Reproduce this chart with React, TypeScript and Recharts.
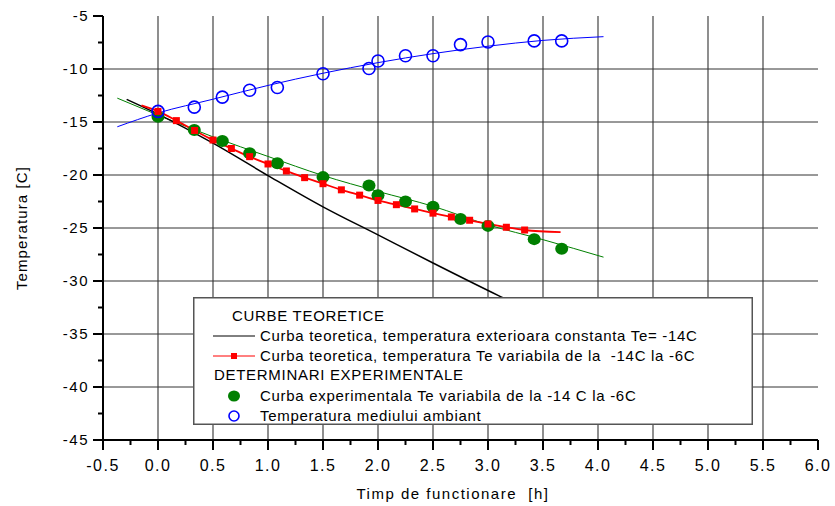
import React from "react";
import {
  ComposedChart,
  Line,
  Scatter,
  XAxis,
  YAxis,
  ReferenceLine,
} from "recharts";

const FONT = "'Liberation Sans', Arial, sans-serif";

// axis ticks
const xMajor = [-0.5, 0, 0.5, 1, 1.5, 2, 2.5, 3, 3.5, 4, 4.5, 5, 5.5, 6];
const yMajor = [-45, -40, -35, -30, -25, -20, -15, -10, -5];

// measurement moments [h]
const timeX = [0, 0.33, 0.585, 0.833, 1.085, 1.5, 1.918, 2.0, 2.25, 2.5, 2.75, 3.0, 3.42, 3.67];
// Temperatura mediului ambiant
const ambientT = [-14.0, -13.6, -12.65, -12.0, -11.75, -10.45, -9.95, -9.25, -8.75, -8.75, -7.7, -7.45, -7.35, -7.35];
// Curba experimentala
const expT = [-14.5, -15.75, -16.8, -17.95, -18.9, -20.2, -21.0, -21.9, -22.5, -23.0, -24.15, -24.8, -26.05, -26.95];

// fitted curves
const ambientFitX = [-0.37, 0, 0.5, 1.0, 1.5, 2.0, 2.5, 3.0, 3.5, 4.05];
const ambientFitT = [-15.45, -14.15, -12.85, -11.55, -10.4, -9.4, -8.55, -7.85, -7.3, -6.95];
const expFitX = [-0.37, 0, 0.5, 1.0, 1.5, 2.0, 2.5, 3.0, 3.5, 4.05];
const expFitT = [-12.75, -14.35, -16.4, -18.25, -20.05, -21.55, -22.95, -24.7, -26.1, -27.75];

// teoretic, Te constant = -14C
const constX = [-0.285, 0, 0.5, 1.0, 1.5, 2.0, 2.5, 3.1, 3.4];
const constT = [-12.86, -14.25, -17.0, -20.05, -23.0, -25.65, -28.3, -31.4, -32.9];

// teoretic, Te variabil -14C .. -6C (pas 10 min)
const varX = [0, 0.167, 0.333, 0.5, 0.667, 0.833, 1.0, 1.167, 1.333, 1.5, 1.667, 1.833, 2.0, 2.167, 2.333, 2.5, 2.667, 2.833, 3.0, 3.167, 3.333];
const varT = [-14.0, -14.87, -15.8, -16.7, -17.5, -18.27, -18.96, -19.62, -20.25, -20.82, -21.4, -21.9, -22.4, -22.8, -23.2, -23.6, -23.96, -24.27, -24.62, -24.93, -25.19];
const varStart = { x: -0.15, y: -13.43 };
const varEnd = { x: 3.66, y: -25.38 };

const pts = (xs: number[], ys: number[]) => xs.map((x, i) => ({ x, y: ys[i] }));

const xTicks = [...xMajor, ...xMajor.slice(1).map((v) => v - 0.25)].sort((a, b) => a - b);
const yTicks = [...yMajor, ...yMajor.slice(1).map((v) => v - 2.5)].sort((a, b) => a - b);
const near = (list: number[], v: number) => list.some((m) => Math.abs(m - v) < 1e-6);

function BottomTick({ x, y, payload }: any) {
  const major = near(xMajor, payload.value);
  return (
    <g>
      <line x1={x} x2={x} y1={y} y2={y + (major ? 10 : 5)} stroke="#000" strokeWidth={2} />
      {major && (
        <text x={x} y={y + 31} textAnchor="middle" fontSize={16} letterSpacing={1.5} fill="#000" fontFamily={FONT}>
          {payload.value.toFixed(1)}
        </text>
      )}
    </g>
  );
}

function TopTick({ x, y, payload }: any) {
  const major = near(xMajor, payload.value);
  return <line x1={x} x2={x} y1={y} y2={y + (major ? 8 : 5)} stroke="#000" strokeWidth={2} />;
}

function LeftTick({ x, y, payload }: any) {
  const major = near(yMajor, payload.value);
  return (
    <g>
      <line x1={x - (major ? 10 : 5)} x2={x} y1={y} y2={y} stroke="#000" strokeWidth={2} />
      {major && (
        <text x={x - 14} y={y} dy="0.36em" textAnchor="end" fontSize={15} letterSpacing={1.5} fill="#000" fontFamily={FONT}>
          {payload.value}
        </text>
      )}
    </g>
  );
}

function RightTick({ x, y, payload }: any) {
  const major = near(yMajor, payload.value);
  return <line x1={x - (major ? 8 : 5)} x2={x} y1={y} y2={y} stroke="#000" strokeWidth={2} />;
}

const GreenDot = (p: any) => <ellipse cx={p.cx} cy={p.cy} rx={6.5} ry={6} fill="#007f00" />;
const BlueRing = (p: any) => <circle cx={p.cx} cy={p.cy} r={6} fill="none" stroke="#0000ff" strokeWidth={1.6} />;
const RedSquare = (p: any) => <rect x={p.cx - 3.5} y={p.cy - 3.5} width={7} height={7} fill="#ff0000" />;

function LegendBox() {
  const txt = { fontSize: 15, letterSpacing: 0.7, fill: "#000", fontFamily: FONT, style: { whiteSpace: "pre" } } as const;
  return (
    <svg
      width={560}
      height={128}
      style={{ position: "absolute", left: 193, top: 297 }}
    >
      <rect x={0.75} y={0.75} width={558.5} height={126.5} fill="#fff" stroke="#555" strokeWidth={1.5} />
      <text x={39} y={19} dy="0.36em" {...txt}>CURBE TEORETICE</text>
      <line x1={20} x2={62} y1={39} y2={39} stroke="#000" strokeWidth={1} />
      <text x={67} y={39} dy="0.36em" {...txt}>Curba teoretica, temperatura exterioara constanta Te= -14C</text>
      <line x1={20} x2={62} y1={59} y2={59} stroke="#ff0000" strokeWidth={1} />
      <rect x={38} y={56} width={6} height={6} fill="#ff0000" />
      <text x={67} y={59} dy="0.36em" {...txt}>{"Curba teoretica, temperatura Te variabila de la  -14C la -6C"}</text>
      <text x={21} y={78} dy="0.36em" {...txt}>DETERMINARI EXPERIMENTALE</text>
      <ellipse cx={41} cy={99} rx={6} ry={5.5} fill="#007f00" />
      <text x={67} y={99} dy="0.36em" {...txt}>Curba experimentala Te variabila de la -14 C la -6C</text>
      <circle cx={41} cy={119} r={5} fill="none" stroke="#0000ff" strokeWidth={1.6} />
      <text x={67} y={119} dy="0.36em" {...txt}>Temperatura mediului ambiant</text>
    </svg>
  );
}

export default function App() {
  return (
    <div style={{ position: "absolute", left: 0, top: 0, width: 835, height: 506, background: "#fff" }}>
      <ComposedChart width={835} height={506} margin={{ top: 16, right: 17, left: 0, bottom: 0 }}>
        <XAxis
          xAxisId={0}
          type="number"
          dataKey="x"
          domain={[-0.5, 6]}
          ticks={xTicks}
          interval={0}
          height={66}
          tickSize={0}
          tickMargin={0}
          tick={<BottomTick />}
          axisLine={{ stroke: "#000", strokeWidth: 2 }}
          allowDataOverflow
        />
        <XAxis
          xAxisId="top"
          orientation="top"
          type="number"
          domain={[-0.5, 6]}
          ticks={xTicks}
          interval={0}
          height={0}
          tickSize={0}
          tickMargin={0}
          tick={<TopTick />}
          axisLine={{ stroke: "#000", strokeWidth: 2 }}
          allowDataOverflow
        />
        <YAxis
          yAxisId={0}
          type="number"
          dataKey="y"
          domain={[-45, -5]}
          ticks={yTicks}
          interval={0}
          width={103}
          tickSize={0}
          tickMargin={0}
          tick={<LeftTick />}
          axisLine={{ stroke: "#000", strokeWidth: 2 }}
          allowDataOverflow
          label={{
            value: "Temperatura [C]",
            angle: -90,
            position: "insideLeft",
            offset: 22,
            style: { fontSize: 15, letterSpacing: 1.1, fill: "#000", fontFamily: FONT, textAnchor: "middle" },
          }}
        />
        <YAxis
          yAxisId="right"
          orientation="right"
          type="number"
          domain={[-45, -5]}
          ticks={yTicks}
          interval={0}
          width={0}
          tickSize={0}
          tickMargin={0}
          tick={<RightTick />}
          axisLine={{ stroke: "#000", strokeWidth: 2 }}
          allowDataOverflow
        />

        {xMajor.slice(1, -1).map((v) => (
          <ReferenceLine key={"vx" + v} x={v} stroke="#444" strokeWidth={1.2} />
        ))}
        {yMajor.slice(1, -1).map((v) => (
          <ReferenceLine key={"hy" + v} y={v} stroke="#333" strokeWidth={1} />
        ))}

        <Line data={pts(expFitX, expFitT)} dataKey="y" type="monotone" stroke="#008000" strokeWidth={1} dot={false} isAnimationActive={false} />
        <Scatter data={pts(timeX, expT)} fill="#007f00" shape={GreenDot} isAnimationActive={false} />
        <Line data={pts(constX, constT)} dataKey="y" type="monotone" stroke="#000" strokeWidth={1.5} dot={false} isAnimationActive={false} />
        <Line
          data={[varStart, ...pts(varX, varT), varEnd]}
          dataKey="y"
          type="monotone"
          stroke="#ff0000"
          strokeWidth={1.8}
          dot={false}
          isAnimationActive={false}
        />
        <Scatter data={pts(varX, varT)} fill="#ff0000" shape={RedSquare} isAnimationActive={false} />
        <Line data={pts(ambientFitX, ambientFitT)} dataKey="y" type="monotone" stroke="#0000ff" strokeWidth={1} dot={false} isAnimationActive={false} />
        <Scatter data={pts(timeX, ambientT)} fill="#0000ff" shape={BlueRing} isAnimationActive={false} />
      </ComposedChart>

      <div
        style={{
          position: "absolute",
          left: 0,
          width: 906,
          top: 485,
          textAlign: "center",
          fontFamily: FONT,
          fontSize: 15,
          letterSpacing: 1.5,
          whiteSpace: "pre",
        }}
      >
        {"Timp de functionare  [h]"}
      </div>
      <LegendBox />
    </div>
  );
}
